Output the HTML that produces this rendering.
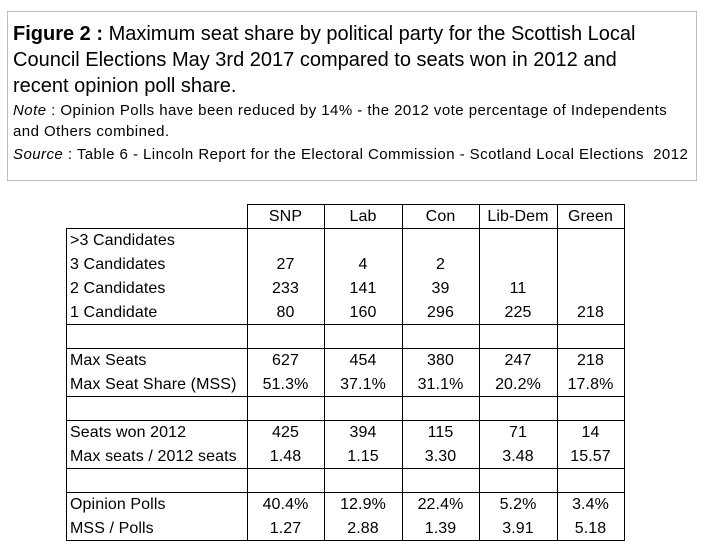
<!DOCTYPE html>
<html><head><meta charset="utf-8"><style>
body{margin:0;width:709px;height:549px;background:#fff;font-family:"Liberation Sans",sans-serif;color:#000;position:relative;overflow:hidden}
.box{position:absolute;left:7px;top:11px;width:688px;height:168px;border:1px solid #bdbdbd;}
.t{position:absolute;left:13px;white-space:nowrap}
.big{font-size:20px;letter-spacing:0px}
.sm{font-size:15px;letter-spacing:0.45px}
.l{position:absolute;background:#000}
.c{position:absolute;font-size:16px;white-space:nowrap;text-align:center;letter-spacing:0.1px}
.r{position:absolute;font-size:16px;white-space:nowrap;left:70px;letter-spacing:0.1px}
</style></head><body>
<div class="box"></div>
<div class="t big" style="top:23px"><b>Figure 2 :</b> Maximum seat share by political party for the Scottish Local</div>
<div class="t big" style="top:49px">Council Elections May 3rd 2017 compared to seats won in 2012 and</div>
<div class="t big" style="top:75px">recent opinion poll share.</div>
<div class="t sm" style="top:102px"><i>Note</i> : Opinion Polls have been reduced by 14% - the 2012 vote percentage of Independents</div>
<div class="t sm" style="top:123px">and Others combined.</div>
<div class="t sm" style="top:146px"><i>Source</i> : Table 6 - Lincoln Report for the Electoral Commission - Scotland Local Elections &nbsp;2012</div>

<div class="l" style="left:247px;top:204px;width:378px;height:1px"></div>
<div class="l" style="left:66px;top:228px;width:559px;height:1px"></div>
<div class="l" style="left:66px;top:324px;width:559px;height:1px"></div>
<div class="l" style="left:66px;top:348px;width:559px;height:1px"></div>
<div class="l" style="left:66px;top:396px;width:559px;height:1px"></div>
<div class="l" style="left:66px;top:420px;width:559px;height:1px"></div>
<div class="l" style="left:66px;top:468px;width:559px;height:1px"></div>
<div class="l" style="left:66px;top:492px;width:559px;height:1px"></div>
<div class="l" style="left:66px;top:540px;width:559px;height:1px"></div>
<div class="l" style="left:66px;top:228px;width:1px;height:313px"></div>
<div class="l" style="left:247px;top:204px;width:1px;height:337px"></div>
<div class="l" style="left:324px;top:204px;width:1px;height:337px"></div>
<div class="l" style="left:402px;top:204px;width:1px;height:337px"></div>
<div class="l" style="left:479px;top:204px;width:1px;height:337px"></div>
<div class="l" style="left:557px;top:204px;width:1px;height:337px"></div>
<div class="l" style="left:624px;top:204px;width:1px;height:337px"></div>

<div class="r" style="top:232px">&gt;3 Candidates</div>
<div class="r" style="top:256px">3 Candidates</div>
<div class="r" style="top:280px">2 Candidates</div>
<div class="r" style="top:304px">1 Candidate</div>
<div class="r" style="top:352px">Max Seats</div>
<div class="r" style="top:376px">Max Seat Share (MSS)</div>
<div class="r" style="top:424px">Seats won 2012</div>
<div class="r" style="top:448px">Max seats / 2012 seats</div>
<div class="r" style="top:496px">Opinion Polls</div>
<div class="r" style="top:520px">MSS / Polls</div>

<div id="cols"></div>
<script>
var xs=[[247,324],[324,402],[402,479],[479,557],[557,624]];
var rows=[
[208,["SNP","Lab","Con","Lib-Dem","Green"]],
[256,["27","4","2","",""]],
[280,["233","141","39","11",""]],
[304,["80","160","296","225","218"]],
[352,["627","454","380","247","218"]],
[376,["51.3%","37.1%","31.1%","20.2%","17.8%"]],
[424,["425","394","115","71","14"]],
[448,["1.48","1.15","3.30","3.48","15.57"]],
[496,["40.4%","12.9%","22.4%","5.2%","3.4%"]],
[520,["1.27","2.88","1.39","3.91","5.18"]]];
var h="";
rows.forEach(function(r){r[1].forEach(function(t,i){h+='<div class="c" style="top:'+r[0]+'px;left:'+xs[i][0]+'px;width:'+(xs[i][1]-xs[i][0])+'px">'+t+'</div>';});});
document.getElementById("cols").innerHTML=h;
</script>
</body></html>
